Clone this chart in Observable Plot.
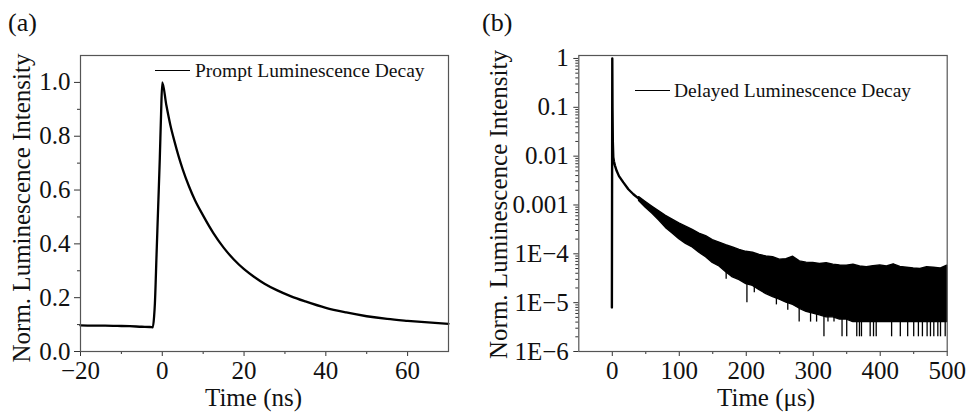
<!DOCTYPE html>
<html><head><meta charset="utf-8">
<script src="https://cdn.jsdelivr.net/npm/d3@7"></script>
<script src="https://cdn.jsdelivr.net/npm/@observablehq/plot@0.6"></script>
<style>
html,body{margin:0;padding:0;background:#fff;}
#wrap{position:relative;width:966px;height:412px;overflow:hidden;font-family:"Liberation Serif","Times New Roman",serif;color:#111;background:#fff;}
.panel{position:absolute;top:0;}
.tag{position:absolute;font-size:26px;line-height:26px;white-space:nowrap;}
.legtext{position:absolute;font-size:19.5px;line-height:20px;white-space:nowrap;}
.legline{position:absolute;height:0;border-top:1.6px solid #000;}
</style></head><body>
<div id="wrap">
  <div id="pa" class="panel" style="left:0"></div>
  <div id="pb" class="panel" style="left:480px"></div>
  <div class="tag" style="left:8px;top:10px">(a)</div>
  <div class="tag" style="left:482px;top:10px">(b)</div>
  <div class="legline" style="left:155px;top:70px;width:35px"></div>
  <div class="legtext" id="legA" style="left:195px;top:61px"></div>
  <div class="legline" style="left:635px;top:90px;width:35px"></div>
  <div class="legtext" id="legB" style="left:674px;top:81px"></div>
</div>
<script>
// ---------- Panel (a): prompt decay ----------
const promptLabel = "Prompt Luminescence Decay";
const promptTime = [-20, -17, -14, -11, -8, -5, -3, -2.3, -2.0, -1.8, -1.4, -1.0, -0.6, -0.3, 0, 1, 2, 3, 4, 5, 6.5, 8, 10, 12.5, 15, 17.5, 20, 22.5, 25, 28, 31.5, 35, 40, 45, 50, 55, 60, 65, 70];
const promptIntensity = [0.097, 0.096, 0.096, 0.095, 0.094, 0.092, 0.091, 0.090, 0.13, 0.18, 0.36, 0.54, 0.72, 0.88, 1.0, 0.915, 0.84, 0.78, 0.725, 0.677, 0.615, 0.562, 0.505, 0.44, 0.386, 0.342, 0.306, 0.277, 0.252, 0.228, 0.205, 0.186, 0.162, 0.145, 0.131, 0.121, 0.114, 0.108, 0.103];
const xTicksA = [-20, 0, 20, 40, 60];
const xTickLabelsA = ["−20", "0", "20", "40", "60"];
const xMinorA = [-10, 10, 30, 50];
const yTicksA = [0, 0.2, 0.4, 0.6, 0.8, 1.0];
const yTickLabelsA = ["0.0", "0.2", "0.4", "0.6", "0.8", "1.0"];
const yMinorA = [0.1, 0.3, 0.5, 0.7, 0.9];
const xTitleA = "Time (ns)";
const yTitle = "Norm. Luminescence Intensity";

// ---------- Panel (b): delayed decay ----------
const delayedLabel = "Delayed Luminescence Decay";
const delayedTime = [-0.6, 0, 0.3, 0.8, 1.5, 2.5, 4, 6.5, 10, 16.5, 24, 31.5, 40];
const delayedValue = [8e-6, 1.0, 0.1, 0.02, 0.0095, 0.0078, 0.0064, 0.005, 0.0039, 0.0029, 0.0021, 0.00166, 0.00133];
const bandTime = [40, 50, 60, 70, 80, 90, 100, 110, 120, 130, 140, 150, 160, 170, 180, 190, 200, 210, 220, 230, 240, 250, 260, 270, 280, 290, 300, 310, 320, 330, 340, 350, 360, 370, 380, 390, 400, 410, 420, 430, 440, 450, 460, 470, 480, 490, 500];
const bandUpper = [1.45e-3, 1.15e-3, 9.2e-4, 7.4e-4, 6.0e-4, 5.0e-4, 4.2e-4, 3.6e-4, 3.1e-4, 2.6e-4, 2.3e-4, 1.9e-4, 1.7e-4, 1.5e-4, 1.35e-4, 1.2e-4, 1.1e-4, 1.05e-4, 9.5e-5, 8.8e-5, 8.5e-5, 7.6e-5, 7.8e-5, 8.7e-5, 7.0e-5, 6.6e-5, 6.5e-5, 6.2e-5, 6.4e-5, 6.0e-5, 5.8e-5, 5.7e-5, 6.0e-5, 5.5e-5, 5.3e-5, 5.6e-5, 5.8e-5, 5.5e-5, 6.1e-5, 5.4e-5, 5.2e-5, 5.0e-5, 4.9e-5, 5.3e-5, 5.2e-5, 5.0e-5, 5.7e-5];
const bandLower = [1.2e-3, 8.8e-4, 6.6e-4, 4.8e-4, 3.4e-4, 2.6e-4, 2.0e-4, 1.6e-4, 1.35e-4, 1.05e-4, 8.5e-5, 6.5e-5, 5.5e-5, 4.2e-5, 3.3e-5, 2.9e-5, 2.4e-5, 2.2e-5, 1.8e-5, 1.5e-5, 1.3e-5, 1.15e-5, 1.0e-5, 9e-6, 7.5e-6, 6.5e-6, 6e-6, 5.5e-6, 5e-6, 5e-6, 4.5e-6, 4.5e-6, 4e-6, 4e-6, 4e-6, 4e-6, 4e-6, 4e-6, 4e-6, 4e-6, 4e-6, 4e-6, 4e-6, 4e-6, 4e-6, 4e-6, 4e-6];
const spikeTime = [170, 201, 212, 245, 262, 279, 296, 305, 316, 322, 331, 343, 350, 358, 365, 369, 372, 385, 390, 394, 403, 417, 430, 441, 450, 457, 463, 470, 475, 480, 486, 490, 497];
const spikeLow = [3e-5, 1e-5, 1.6e-5, 9e-6, 7e-6, 4e-6, 4e-6, 4e-6, 2e-6, 4e-6, 4e-6, 2e-6, 2e-6, 4e-6, 2e-6, 2e-6, 2e-6, 2e-6, 2e-6, 2e-6, 4e-6, 2e-6, 2e-6, 2e-6, 2e-6, 2e-6, 2e-6, 2e-6, 2e-6, 2e-6, 2e-6, 2e-6, 2e-6];
const spikeHigh = [5e-5, 3e-5, 3e-5, 2e-5, 2e-5, 2e-5, 2e-5, 2e-5, 2e-5, 2e-5, 2e-5, 2e-5, 2e-5, 2e-5, 2e-5, 2e-5, 2e-5, 2e-5, 2e-5, 2e-5, 2e-5, 2e-5, 2e-5, 2e-5, 2e-5, 2e-5, 2e-5, 2e-5, 2e-5, 2e-5, 2e-5, 2e-5, 2e-5];
const xTicksB = [0, 100, 200, 300, 400, 500];
const xTickLabelsB = ["0", "100", "200", "300", "400", "500"];
const xMinorB = [50, 150, 250, 350, 450];
const yTicksB = [1e-6, 1e-5, 1e-4, 1e-3, 1e-2, 1e-1, 1];
const yTickLabelsB = ["1E−6", "1E−5", "1E−4", "0.001", "0.01", "0.1", "1"];
const xTitleB = "Time (μs)";

// ---------- tables ----------
const prompt = promptTime.map((t, i) => ({t, v: promptIntensity[i]}));
const delayed = delayedTime.map((t, i) => ({t, v: delayedValue[i]}));
const band = bandTime.map((t, i) => ({t, hi: bandUpper[i], lo: bandLower[i]}));
const spikes = spikeTime.map((t, i) => ({t, lo: spikeLow[i], hi: spikeHigh[i]}));
const yMinorB = [];
for (let k = -6; k < 0; k++) for (let m = 2; m <= 9; m++) yMinorB.push(m * Math.pow(10, k));

const FONT = "Liberation Serif, Times New Roman, serif";
const lookup = (vals, labels) => d => { const i = vals.findIndex(v => Math.abs(v - d) < 1e-12); return i >= 0 ? labels[i] : ""; };
const blank = () => "";

const plotA = Plot.plot({
  width: 480, height: 412,
  marginLeft: 80, marginRight: 32, marginTop: 55, marginBottom: 61,
  style: {fontFamily: FONT, fontSize: "25px", color: "#333", background: "transparent"},
  x: {domain: [-20, 70]},
  y: {domain: [0, 1.1]},
  marks: [
    Plot.line(prompt, {x: "t", y: "v", stroke: "#000", strokeWidth: 2.3, curve: "monotone-x"}),
    Plot.axisX({ticks: xTicksA, tickFormat: lookup(xTicksA, xTickLabelsA), tickSize: 5, tickPadding: 4.5, label: null, fill: "#111"}),
    Plot.axisX({ticks: xMinorA, tickFormat: blank, tickSize: 3, label: null}),
    Plot.axisY({ticks: yTicksA, tickFormat: lookup(yTicksA, yTickLabelsA), tickSize: 6, tickPadding: 4, label: null, fill: "#111"}),
    Plot.axisY({ticks: yMinorA, tickFormat: blank, tickSize: 3, label: null}),
    Plot.frame({stroke: "#555", strokeWidth: 1.2}),
    Plot.text([xTitleA], {text: d => d, frameAnchor: "bottom", textAnchor: "middle", dy: 46, dx: -11, lineAnchor: "middle", fill: "#111"}),
    Plot.text([yTitle], {text: d => d, frameAnchor: "left", textAnchor: "middle", rotate: -90, dx: -58.5, dy: 4.5, lineAnchor: "middle", fill: "#111"})
  ]
});
document.getElementById("pa").appendChild(plotA);

const plotB = Plot.plot({
  width: 486, height: 412,
  marginLeft: 98.3, marginRight: 19.3, marginTop: 55, marginBottom: 61,
  style: {fontFamily: FONT, fontSize: "25px", color: "#333", background: "transparent"},
  x: {domain: [-50, 500]},
  y: {type: "log", domain: [1e-6, 1.15]},
  marks: [
    Plot.areaY(band, {x: "t", y1: "lo", y2: "hi", fill: "#000", stroke: "#000", strokeWidth: 1.4}),
    Plot.line(delayed, {x: "t", y: "v", stroke: "#000", strokeWidth: 2.4}),
    Plot.ruleX(spikes, {x: "t", y1: "lo", y2: "hi", stroke: "#000", strokeWidth: 1.3}),
    Plot.axisX({ticks: xTicksB, tickFormat: lookup(xTicksB, xTickLabelsB), tickSize: 5, tickPadding: 4.5, label: null, fill: "#111"}),
    Plot.axisX({ticks: xMinorB, tickFormat: blank, tickSize: 3, label: null}),
    Plot.axisY({ticks: yTicksB, tickFormat: lookup(yTicksB, yTickLabelsB), tickSize: 5, tickPadding: 5, label: null, fill: "#111"}),
    Plot.axisY({ticks: yMinorB, tickFormat: blank, tickSize: 3, label: null}),
    Plot.frame({stroke: "#555", strokeWidth: 1.2}),
    Plot.text([xTitleB], {text: d => d, frameAnchor: "bottom", textAnchor: "middle", dy: 46, dx: 3, lineAnchor: "middle", fill: "#111"}),
    Plot.text([yTitle], {text: d => d, frameAnchor: "left", textAnchor: "middle", rotate: -90, dx: -80.3, dy: 1, lineAnchor: "middle", fill: "#111"})
  ]
});
document.getElementById("pb").appendChild(plotB);

document.getElementById("legA").textContent = promptLabel;
document.getElementById("legB").textContent = delayedLabel;
</script>
</body></html>
